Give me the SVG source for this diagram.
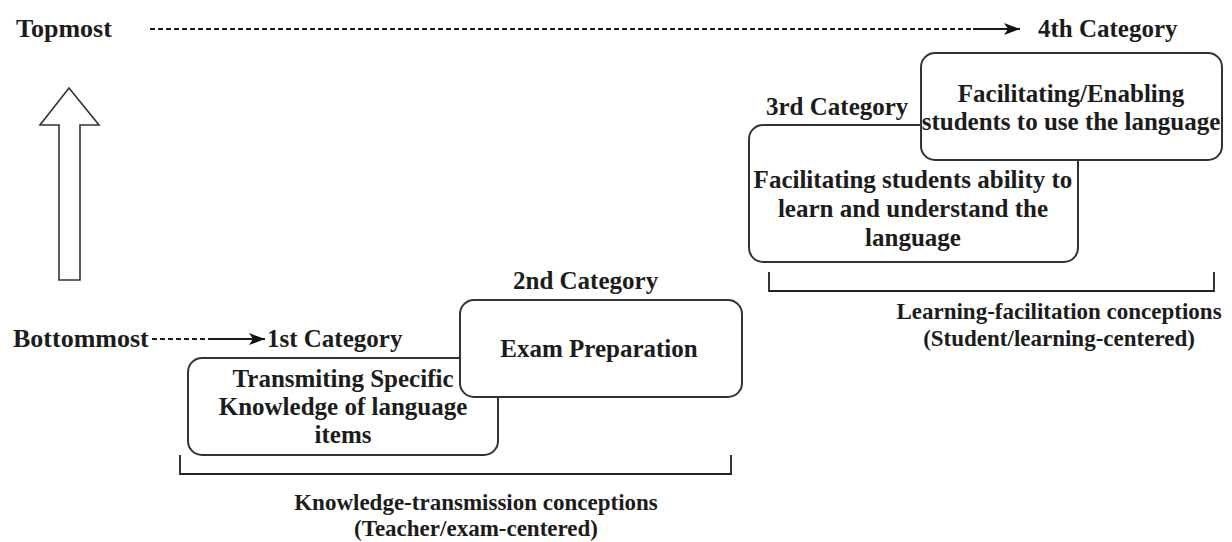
<svg xmlns="http://www.w3.org/2000/svg" width="1232" height="542" viewBox="0 0 1232 542">
<style>
text{font-family:"Liberation Serif","Times New Roman",serif;font-weight:bold;fill:#1c1c1c}
.t25{font-size:25px}
.t26{font-size:26px}
.t23{font-size:23px}
.mid{text-anchor:middle}
.box{fill:#fff;stroke:#333;stroke-width:2}
.dash{fill:none;stroke:#1a1a1a;stroke-width:2;stroke-dasharray:5 3}
.solid{fill:none;stroke:#1a1a1a;stroke-width:2}
.brk{fill:none;stroke:#222;stroke-width:1.8}
</style>
<defs>
<marker id="arr" markerUnits="userSpaceOnUse" markerWidth="18" markerHeight="14" refX="16" refY="7" orient="auto">
<path d="M0,1 L16,7 L0,13 L4,7 Z" fill="#111"/>
</marker>
</defs>
<rect width="1232" height="542" fill="#fff"/>
<g id="labels">
<text class="t26" x="16" y="37">Topmost</text>
<text class="t26" x="13" y="347">Bottommost</text>
<text class="t25" x="1038" y="37">4th Category</text>
<text class="t25" x="766" y="115">3rd Category</text>
<text class="t25" x="513" y="289">2nd Category</text>
<text class="t25" x="267" y="347">1st Category</text>
</g>
<g id="connectors">
<path class="dash" d="M150,29 L973,29"/>
<path class="solid" d="M973,29 L1020,29" marker-end="url(#arr)"/>
<path class="dash" d="M152,339 L208,339"/>
<path class="solid" d="M208,339 L265,339" marker-end="url(#arr)"/>
</g>
<g id="up-arrow">
<path d="M69,88 L99,125 L80,125 L80,280 L59,280 L59,125 L40,125 Z" fill="#fff" stroke="#333" stroke-width="1.6" stroke-linejoin="miter"/>
</g>
<g id="node1">
<rect class="box" x="188" y="358" width="310" height="97" rx="14"/>
<text class="t25 mid" x="343" y="387">Transmiting Specific</text>
<text class="t25 mid" x="343" y="415">Knowledge of language</text>
<text class="t25 mid" x="343" y="443">items</text>
</g>
<g id="node2">
<rect class="box" x="460" y="300" width="282" height="97" rx="14"/>
<text class="t25 mid" x="599" y="357">Exam Preparation</text>
</g>
<g id="node3">
<rect class="box" x="749" y="125" width="329" height="137" rx="14"/>
<text class="t25 mid" x="913" y="188">Facilitating students ability to</text>
<text class="t25 mid" x="913" y="217">learn and understand the</text>
<text class="t25 mid" x="913" y="246">language</text>
</g>
<g id="node4">
<rect class="box" x="921" y="53" width="301" height="107" rx="14"/>
<text class="t25 mid" x="1071" y="102">Facilitating/Enabling</text>
<text class="t25 mid" x="1071" y="130">students to use the language</text>
</g>
<g id="bracket-left">
<path class="brk" d="M180,455 L180,474 L731,474 L731,455"/>
<text class="t23 mid" x="476" y="510">Knowledge-transmission conceptions</text>
<text class="t23 mid" x="476" y="536">(Teacher/exam-centered)</text>
</g>
<g id="bracket-right">
<path class="brk" d="M769,272 L769,291 L1214,291 L1214,272"/>
<text class="t23 mid" x="1059" y="319">Learning-facilitation conceptions</text>
<text class="t23 mid" x="1059" y="346">(Student/learning-centered)</text>
</g>
</svg>
